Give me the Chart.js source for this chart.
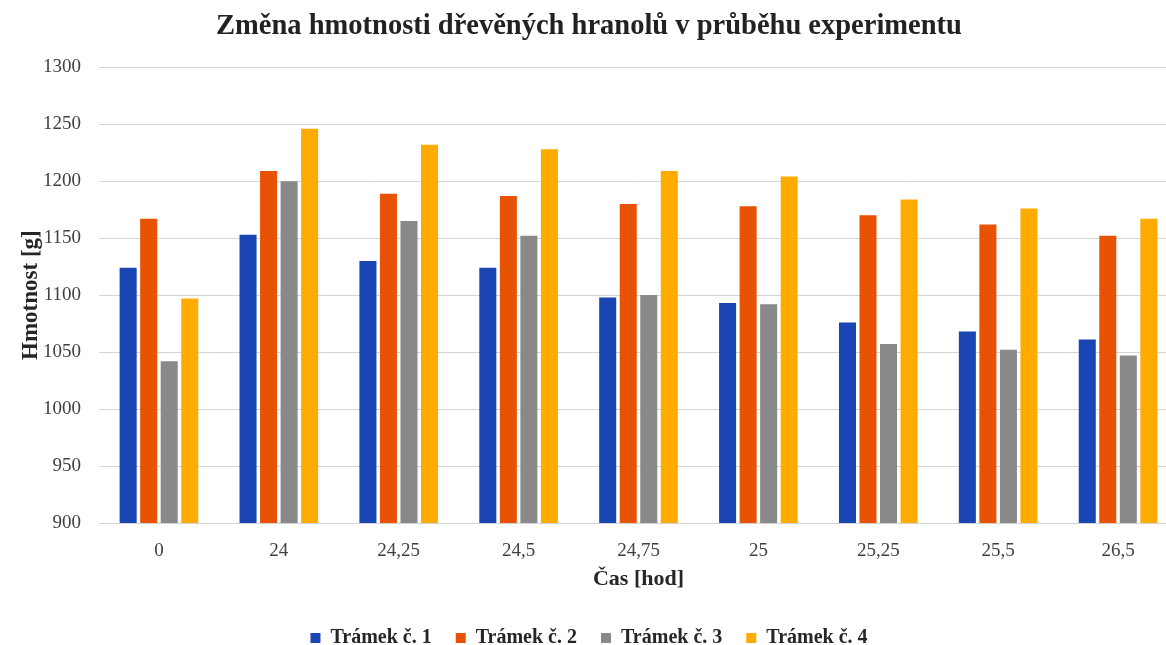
<!DOCTYPE html>
<html>
<head>
<meta charset="utf-8">
<script src="https://cdn.jsdelivr.net/npm/chart.js@4.4.1/dist/chart.umd.min.js"></script>
<style>
  html, body { margin: 0; padding: 0; background: #ffffff; overflow: hidden; }
  #wrap { width: 1166px; height: 645px; overflow: hidden; position: relative; }
  canvas { display: block; }
</style>
</head>
<body>
<div id="wrap"><canvas id="c" width="1186" height="658"></canvas></div>
<script>
const categories = ["0", "24", "24,25", "24,5", "24,75", "25", "25,25", "25,5", "26,5"];
const seriesNames = ["Trámek č. 1", "Trámek č. 2", "Trámek č. 3", "Trámek č. 4"];
const tramek1 = [1124, 1153, 1130, 1124, 1098, 1093, 1076, 1068, 1061];
const tramek2 = [1167, 1209, 1189, 1187, 1180, 1178, 1170, 1162, 1152];
const tramek3 = [1042, 1200, 1165, 1152, 1100, 1092, 1057, 1052, 1047];
const tramek4 = [1097, 1246, 1232, 1228, 1209, 1204, 1184, 1176, 1167];
const yTicks = [900, 950, 1000, 1050, 1100, 1150, 1200, 1250, 1300];

const colors = ["#1946b2", "#e85205", "#898989", "#ffab00"];
const serif = "'Liberation Serif', 'Times New Roman', serif";

const datasets = [tramek1, tramek2, tramek3, tramek4].map((d, i) => ({
  label: seriesNames[i],
  data: d,
  backgroundColor: colors[i],
  borderWidth: 0,
  categoryPercentage: 0.685,
  barPercentage: 0.83
}));

new Chart(document.getElementById('c'), {
  type: 'bar',
  data: { labels: categories, datasets },
  options: {
    responsive: false,
    animation: false,
    layout: { padding: { left: 0, right: 8, top: 0, bottom: 0 } },
    plugins: {
      title: {
        display: true,
        text: "Změna hmotnosti dřevěných hranolů v průběhu experimentu",
        font: { family: serif, size: 28.5, weight: 'bold' },
        color: '#222222',
        padding: { top: 10, bottom: 23 }
      },
      legend: {
        position: 'bottom',
        labels: {
          font: { family: serif, size: 20, weight: 'bold' },
          color: '#262626',
          boxWidth: 10,
          boxHeight: 10,
          padding: 24
        }
      },
      tooltip: { enabled: false }
    },
    scales: {
      x: {
        grid: { display: false, drawTicks: false },
        border: { display: false },
        ticks: { font: { family: serif, size: 19 }, color: '#404040', padding: 17 },
        title: {
          display: true,
          text: "Čas [hod]",
          font: { family: serif, size: 22, weight: 'bold' },
          color: '#262626',
          padding: { top: 0, bottom: 11 }
        },
        afterFit: (s) => { s.height = 81; }
      },
      y: {
        min: 900,
        max: 1300,
        afterBuildTicks: (s) => { s.ticks = yTicks.map(v => ({ value: v })); },
        grid: { color: '#d4d4d4', lineWidth: 1, drawTicks: false },
        border: { display: false },
        ticks: {
          font: { family: serif, size: 19 },
          color: '#404040',
          padding: 18,
          callback: (v) => String(v)
        },
        title: {
          display: true,
          text: "Hmotnost [g]",
          font: { family: serif, size: 23, weight: 'bold' },
          color: '#262626',
          padding: { top: 17, bottom: 0 }
        },
        afterFit: (s) => { s.width = 99; }
      }
    }
  }
});
</script>
</body>
</html>
